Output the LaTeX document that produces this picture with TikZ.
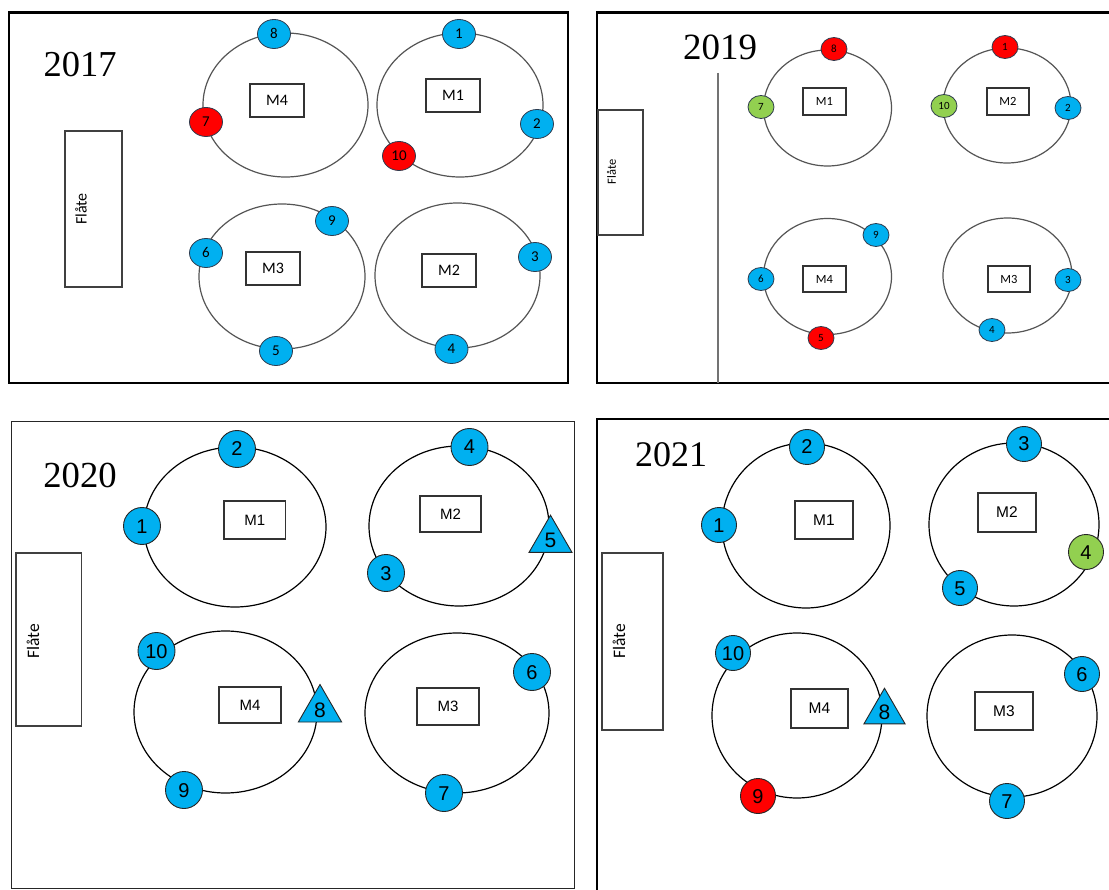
\documentclass[tikz,border=0pt]{standalone}
\usepackage{fontspec}
\setmainfont{Liberation Serif}
\newfontfamily\calfont{Carlito}
\newfontfamily\arialfont{Liberation Sans}
\usetikzlibrary{shapes.geometric}
\definecolor{seatblue}{HTML}{00B0F0}
\definecolor{seatred}{HTML}{FF0000}
\definecolor{seatgreen}{HTML}{92D050}
\definecolor{seatline}{HTML}{2E3B4E}
\definecolor{ringgray}{HTML}{555555}
\tikzset{
  yearlbl/.style={anchor=base, inner sep=0pt, font=\fontsize{#1}{#1}\selectfont},
  thickframe/.style={draw=black, line width=2.5pt},
  thinframe/.style={draw=black!85, line width=1pt},
  flate/.style={draw=black!75, line width=1.2pt, inner sep=0pt},
  flatetxt/.style={rotate=90, inner sep=0pt, font=\calfont\fontsize{#1}{#1}\selectfont},
  ringA/.style={draw=ringgray, line width=1.2pt, ellipse, inner sep=0pt},
  ringC/.style={draw=black, line width=1.2pt, ellipse, inner sep=0pt},
  mbox/.style={draw=black!80, line width=1.2pt, inner sep=0pt, font=\calfont\fontsize{#1}{#1}\selectfont},
  mboxa/.style={draw=black!80, line width=1.2pt, inner sep=0pt, font=\arialfont\fontsize{#1}{#1}\selectfont},
  sA/.style={ellipse, draw=seatline, line width=0.8pt, fill=seatblue, minimum width=33pt, minimum height=29pt, inner sep=0pt, text height=10pt, text depth=-5.5pt, font=\calfont\fontsize{15}{15}\selectfont},
  sB/.style={ellipse, draw=seatline, line width=0.8pt, fill=seatblue, minimum width=26pt, minimum height=23pt, inner sep=0pt, text height=8pt, text depth=-6.5pt, font=\calfont\fontsize{11}{11}\selectfont},
  sC/.style={circle, draw=black!85, line width=0.9pt, fill=seatblue, minimum size=37pt, inner sep=0pt, text height=14pt, text depth=-4pt, font=\arialfont\fontsize{20}{20}\selectfont},
  sD/.style={circle, draw=black!85, line width=0.9pt, fill=seatblue, minimum size=35pt, inner sep=0pt, text height=14pt, text depth=-4pt, font=\arialfont\fontsize{20}{20}\selectfont},
  tri/.style={regular polygon, regular polygon sides=3, draw=black!85, line width=0.9pt, fill=seatblue, minimum size=#1, inner sep=0pt, text height=15pt, text depth=-10pt, font=\arialfont\fontsize{21}{21}\selectfont},
  redseat/.style={fill=seatred},
  greenseat/.style={fill=seatgreen},
  divider/.style={draw=black!55, line width=1.2pt}
}
\begin{document}
\begin{tikzpicture}[x=1pt,y=-1pt]
\useasboundingbox (0,0) rectangle (1109,890);
\clip (0,0) rectangle (1109,890);
\fill[white] (0,0) rectangle (1109,890);

% ================= 2017 =================
\draw[thickframe] (9,12.5) rectangle (568,383);
\node[yearlbl=36.5] (y17) at (80,77) {2017};
\node[flate, minimum width=57pt, minimum height=156pt] (f17) at (93.5,209) {};
\node[flatetxt=16] (f17t) at (81,209) {Flåte};

\node[ringA, minimum width=165pt, minimum height=144pt] (t17m4) at (285.5,105) {};
\node[ringA, minimum width=166pt, minimum height=144pt] (t17m1) at (460,105) {};
\node[ringA, minimum width=166pt, minimum height=145pt] (t17m3) at (282,276.5) {};
\node[ringA, minimum width=165pt, minimum height=145pt] (t17m2) at (457.5,275.5) {};

\node[mbox=16, minimum width=54pt, minimum height=33pt] (b17m4) at (277,100.5) {M4};
\node[mbox=16, minimum width=54pt, minimum height=33pt] (b17m1) at (453,95.5) {M1};
\node[mbox=16, minimum width=54pt, minimum height=33pt] (b17m3) at (273,268.5) {M3};
\node[mbox=16, minimum width=54pt, minimum height=33pt] (b17m2) at (449,270.5) {M2};

\node[sA] (s17n8) at (274,34) {8};
\node[sA, redseat] (s17n7) at (206,122) {7};
\node[sA] (s17n1) at (459,34) {1};
\node[sA] (s17n2) at (537,124) {2};
\node[sA, redseat] (s17n10) at (399,156) {10};
\node[sA] (s17n9) at (332,221) {9};
\node[sA] (s17n6) at (206,253) {6};
\node[sA] (s17n5) at (276,351) {5};
\node[sA] (s17n3) at (535,257) {3};
\node[sA] (s17n4) at (451.5,349) {4};

% ================= 2019 =================
\draw[thickframe] (597,12.5) rectangle (1115,383);
\coordinate (d19a) at (718,73);
\coordinate (d19b) at (718,383);
\draw[divider] (d19a) -- (d19b);
\node[yearlbl=37] (y19) at (720,60) {2019};
\node[flate, minimum width=45pt, minimum height=125pt] (f19) at (620.5,172.5) {};
\node[flatetxt=12.5] (f19t) at (611.5,172) {Flåte};

\node[ringA, minimum width=128pt, minimum height=116pt] (t19m1) at (827.5,108) {};
\node[ringA, minimum width=128pt, minimum height=115pt] (t19m2) at (1007,105.5) {};
\node[ringA, minimum width=128pt, minimum height=116pt] (t19m4) at (827.5,276.5) {};
\node[ringA, minimum width=129pt, minimum height=115pt] (t19m3) at (1007.5,275.5) {};

\node[mbox=12.5, minimum width=43pt, minimum height=27pt] (b19m1) at (824.5,101.5) {M1};
\node[mbox=12.5, minimum width=42pt, minimum height=27pt] (b19m2) at (1008,101.5) {M2};
\node[mbox=12.5, minimum width=43pt, minimum height=26pt] (b19m4) at (824.5,279) {M4};
\node[mbox=12.5, minimum width=42pt, minimum height=26pt] (b19m3) at (1009,279) {M3};

\node[sB, redseat] (s19n8) at (834,49) {8};
\node[sB, greenseat] (s19n7) at (761,107) {7};
\node[sB, redseat] (s19n1) at (1005,47) {1};
\node[sB, greenseat] (s19n10) at (944,106) {10};
\node[sB] (s19n2) at (1068,108) {2};
\node[sB] (s19n9) at (876,235) {9};
\node[sB] (s19n6) at (761,279) {6};
\node[sB, redseat] (s19n5) at (821,338) {5};
\node[sB] (s19n3) at (1068,280) {3};
\node[sB] (s19n4) at (992,330) {4};

% ================= 2020 =================
\draw[thinframe] (11,422) rectangle (574,888);
\node[yearlbl=36.7] (y20) at (80,487) {2020};
\node[flate, minimum width=65.5pt, minimum height=173pt] (f20) at (48.75,639.5) {};
\node[flatetxt=17.5] (f20t) at (33,641) {Flåte};

\node[ringC, minimum width=182pt, minimum height=160pt] (t20m1) at (235,527) {};
\node[ringC, minimum width=180pt, minimum height=160pt] (t20m2) at (459,526) {};
\node[ringC, minimum width=183pt, minimum height=162pt] (t20m4) at (225.5,712) {};
\node[ringC, minimum width=184pt, minimum height=160pt] (t20m3) at (457,713) {};

\node[mboxa=15, minimum width=61.5pt, minimum height=38pt] (b20m1) at (254.75,520) {M1};
\node[mboxa=15, minimum width=61pt, minimum height=36pt] (b20m2) at (450.5,514) {M2};
\node[mboxa=15, minimum width=62pt, minimum height=36pt] (b20m4) at (250,705) {M4};
\node[mboxa=15, minimum width=62pt, minimum height=37pt] (b20m3) at (448,706.5) {M3};

\node[sC] (s20n2) at (237,449) {2};
\node[sC] (s20n1) at (142,526) {1};
\node[sC] (s20n4) at (469.5,447) {4};
\node[sC] (s20n3) at (386,573) {3};
\node[tri=49.6pt] (s20n5) at (550.5,540) {5};
\node[sC] (s20n10) at (156.5,651) {10};
\node[sC] (s20n9) at (184,790) {9};
\node[tri=50pt] (s20n8) at (320,709.5) {8};
\node[sC] (s20n6) at (532,672) {6};
\node[sC] (s20n7) at (444,793) {7};

% ================= 2021 =================
\draw[draw=black, line width=1.5pt] (597,419) rectangle (1115,895);
\node[yearlbl=36] (y21) at (671,467) {2021};
\node[flate, minimum width=61pt, minimum height=177pt] (f21) at (632.5,641.5) {};
\node[flatetxt=17.5] (f21t) at (619,641) {Flåte};

\node[ringC, minimum width=168pt, minimum height=165pt] (t21m1) at (806,525.5) {};
\node[ringC, minimum width=170pt, minimum height=163pt] (t21m2) at (1014,524.5) {};
\node[ringC, minimum width=170pt, minimum height=165pt] (t21m4) at (797,715.5) {};
\node[ringC, minimum width=170pt, minimum height=162pt] (t21m3) at (1012,716) {};

\node[mboxa=15.5, minimum width=58pt, minimum height=38pt] (b21m1) at (824,520) {M1};
\node[mboxa=15.5, minimum width=58pt, minimum height=39pt] (b21m2) at (1007,512.5) {M2};
\node[mboxa=15.5, minimum width=57pt, minimum height=39pt] (b21m4) at (819.5,708.5) {M4};
\node[mboxa=15.5, minimum width=58pt, minimum height=38pt] (b21m3) at (1004,711) {M3};

\node[sD] (s21n2) at (807,447) {2};
\node[sD] (s21n1) at (719,525) {1};
\node[sD] (s21n3) at (1024,444) {3};
\node[sD, greenseat] (s21n4) at (1086,552) {4};
\node[sD] (s21n5) at (960,588) {5};
\node[sD] (s21n10) at (733,653) {10};
\node[sD, redseat] (s21n9) at (758,796) {9};
\node[tri=47.5pt] (s21n8) at (884.5,712) {8};
\node[sD] (s21n6) at (1082,674) {6};
\node[sD] (s21n7) at (1007,801) {7};
\end{tikzpicture}
\end{document}
